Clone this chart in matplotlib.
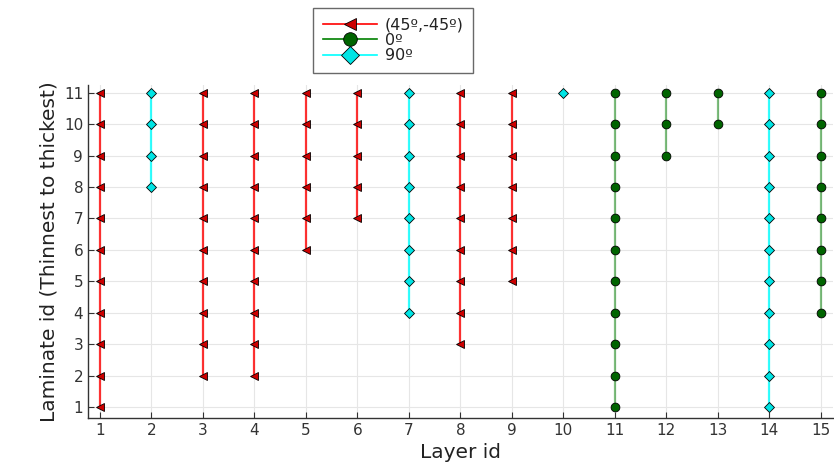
import matplotlib
matplotlib.use("Agg")
import matplotlib.pyplot as plt
from matplotlib.lines import Line2D

layers = list(range(1, 16))
# orientation per layer: 'r' = (45º,-45º), 'g' = 0º, 'c' = 90º
orient = ['r', 'c', 'r', 'r', 'r', 'r', 'c', 'r', 'r', 'c', 'g', 'g', 'g', 'c', 'g']
# first laminate id in which each layer appears (up to 11)
start = [1, 8, 2, 2, 6, 7, 4, 3, 5, 11, 1, 9, 10, 1, 4]
top_lam = 11

styles = {
    'r': dict(line='#ff0000', lalpha=0.8, marker='<', mfc='#cc0000', ms=5.5, label='(45º,-45º)'),
    'g': dict(line='#008000', lalpha=0.5, marker='o', mfc='#006400', ms=6.3, label='0º'),
    'c': dict(line='#00ffff', lalpha=0.8, marker='D', mfc='#00e5e5', ms=5.3, label='90º'),
}

fig = plt.figure(figsize=(8.34, 4.66), dpi=100)
ax = fig.add_axes([0.1055, 0.103, 0.893, 0.715])

for x, o, s in zip(layers, orient, start):
    st = styles[o]
    ys = list(range(s, top_lam + 1))
    xs = [x] * len(ys)
    ax.plot(xs, ys, color=st['line'], alpha=st['lalpha'], lw=1.6, zorder=2)
    ax.plot(xs, ys, ls='none', marker=st['marker'], markerfacecolor=st['mfc'],
            markeredgecolor='black', markeredgewidth=0.6, markersize=st['ms'], zorder=3)

handles = [Line2D([], [], color=styles[k]['line'], alpha=1.0, lw=1.2, marker=styles[k]['marker'],
                  markerfacecolor=styles[k]['mfc'], markeredgecolor='black', markeredgewidth=0.6,
                  markersize=styles[k]['ms'] + 3.5, label=styles[k]['label']) for k in ['r', 'g', 'c']]
leg = fig.legend(handles=handles, loc='upper left', bbox_to_anchor=(313 / 834, 1 - 8 / 466),
                 borderaxespad=0, frameon=True, fancybox=False, edgecolor='#444444', fontsize=11.5,
                 handlelength=3.4, handletextpad=0.5, labelspacing=0.02, borderpad=0.6)
leg.get_frame().set_linewidth(1.0)
for t in leg.get_texts():
    t.set_color('#222222')

ax.set_xlim(0.77, 15.23)
ax.set_ylim(0.65, 11.25)
ax.set_xticks(layers)
ax.set_yticks(range(1, 12))
ax.grid(True, color='#e6e6e6', lw=0.8, zorder=0)
ax.set_axisbelow(True)
for sp in ['top', 'right']:
    ax.spines[sp].set_visible(False)
for sp in ['left', 'bottom']:
    ax.spines[sp].set_color('#333333')
    ax.spines[sp].set_linewidth(1.0)
ax.tick_params(direction='in', length=4, color='#333333', labelsize=11, labelcolor='#333333')
ax.set_xlabel('Layer id', fontsize=14.5, color='#222222', labelpad=4)
ax.set_ylabel('Laminate id (Thinnest to thickest)', fontsize=14.5, color='#222222', labelpad=4)

fig.savefig('out.png', dpi=100)
